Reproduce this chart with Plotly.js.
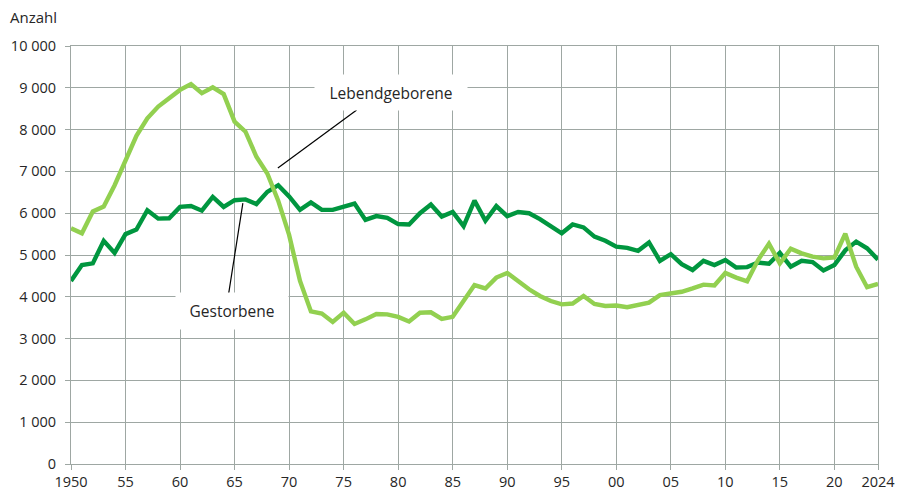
<!DOCTYPE html>
<html>
<head>
<meta charset="utf-8">
<script src="https://cdn.plot.ly/plotly-3.0.1.min.js"></script>
<style>html,body{margin:0;padding:0;background:#fff;}#chart{width:904px;height:496px;}</style>
</head>
<body>
<div id="chart"></div>
<script>
const years = [];
for (let y = 1950; y <= 2024; y++) years.push(y);

const lebendgeborene = [
  5640, 5520, 6040, 6160, 6670, 7230, 7850, 8270, 8550, 8750,
  8950, 9090, 8870, 9010, 8850, 8190, 7950, 7350, 6950, 6300,
  5480, 4380, 3650, 3600, 3400, 3620, 3350, 3460, 3590, 3580,
  3520, 3410, 3620, 3630, 3470, 3520, 3880, 4280, 4200, 4460,
  4570, 4360, 4180, 4020, 3900, 3820, 3840, 4020, 3830, 3780,
  3790, 3750, 3800, 3860, 4040, 4090, 4120, 4200, 4290, 4270,
  4570, 4460, 4370, 4880, 5270, 4800, 5150, 5040, 4960, 4920,
  4940, 5510, 4720, 4230, 4310
];

const gestorbene = [
  4380, 4760, 4800, 5340, 5050, 5500, 5610, 6070, 5870, 5880,
  6150, 6170, 6060, 6390, 6150, 6310, 6330, 6220, 6510, 6670,
  6400, 6080, 6260, 6080, 6080, 6150, 6230, 5840, 5930, 5890,
  5740, 5730, 6000, 6210, 5920, 6030, 5690, 6300, 5820, 6170,
  5930, 6030, 6000, 5860, 5680, 5520, 5730, 5660, 5440, 5340,
  5200, 5170, 5100, 5300, 4860, 5020, 4780, 4640, 4860, 4760,
  4880, 4700, 4710, 4820, 4790, 5050, 4720, 4860, 4830, 4630,
  4760, 5110, 5320, 5160, 4890
];

const xTickVals = [1950, 1955, 1960, 1965, 1970, 1975, 1980, 1985, 1990, 1995, 2000, 2005, 2010, 2015, 2020, 2024];
const xTickText = ['1950', '55', '60', '65', '70', '75', '80', '85', '90', '95', '00', '05', '10', '15', '20', '2024'];
const yTickVals = [0, 1000, 2000, 3000, 4000, 5000, 6000, 7000, 8000, 9000, 10000];
const yTickText = ['0', '1 000', '2 000', '3 000', '4 000', '5 000', '6 000', '7 000', '8 000', '9 000', '10 000'];

const lightGreen = '#92d050';
const darkGreen = '#00963f';
const gridCol = '#9ea7a3';
const textCol = '#262626';
const fontFam = '"Open Sans", "Noto Sans", sans-serif';

const traces = [
  {x: years, y: gestorbene, type: 'scatter', mode: 'lines', name: 'Gestorbene',
   line: {color: darkGreen, width: 4.4}},
  {x: years, y: lebendgeborene, type: 'scatter', mode: 'lines', name: 'Lebendgeborene',
   line: {color: lightGreen, width: 4.4}}
];

const layout = {
  width: 904, height: 496,
  margin: {l: 71, r: 25.5, t: 46, b: 32},
  paper_bgcolor: '#ffffff', plot_bgcolor: '#ffffff',
  showlegend: false,
  font: {family: fontFam, size: 14.5, color: textCol},
  xaxis: {
    range: [1950, 2024], tickvals: xTickVals, ticktext: xTickText,
    showgrid: true, gridcolor: gridCol, gridwidth: 1,
    showline: true, linecolor: gridCol, linewidth: 1, mirror: true,
    ticks: 'outside', ticklen: 5, tickcolor: gridCol, tickwidth: 1,
    zeroline: false, fixedrange: true,
    tickfont: {family: fontFam, size: 14.5, color: textCol}
  },
  yaxis: {
    range: [0, 10000], tickvals: yTickVals, ticktext: yTickText,
    showgrid: true, gridcolor: gridCol, gridwidth: 1,
    showline: true, linecolor: gridCol, linewidth: 1, mirror: true,
    ticks: 'outside', ticklen: 5, tickcolor: gridCol, tickwidth: 1,
    ticklabelstandoff: 6,
    zeroline: false, fixedrange: true,
    tickfont: {family: fontFam, size: 14.5, color: textCol}
  },
  shapes: [
    {type: 'line', xref: 'x', yref: 'y', x0: 1968.97, y0: 7080, x1: 1976.2, y1: 8470,
     line: {color: '#000000', width: 1.2}, layer: 'above'},
    {type: 'line', xref: 'x', yref: 'y', x0: 1965.76, y0: 6240, x1: 1964.39, y1: 3970,
     line: {color: '#000000', width: 1.2}, layer: 'above'}
  ],
  annotations: [
    {text: 'Anzahl', xref: 'paper', yref: 'paper', x: -0.078, y: 1.097,
     xanchor: 'left', yanchor: 'top', showarrow: false,
     font: {family: fontFam, size: 15, color: textCol}},
    {text: 'Lebendgeborene', xref: 'x', yref: 'y', x: 1979.33, y: 8890,
     xanchor: 'center', yanchor: 'middle', showarrow: false,
     width: 152, height: 35, bgcolor: '#ffffff', borderpad: 0,
     font: {family: fontFam, size: 15.5, color: textCol}},
    {text: 'Gestorbene', xref: 'x', yref: 'y', x: 1964.75, y: 3660,
     xanchor: 'center', yanchor: 'middle', showarrow: false,
     width: 112, height: 36, bgcolor: '#ffffff', borderpad: 0,
     font: {family: fontFam, size: 15.5, color: textCol}}
  ]
};

Plotly.newPlot('chart', traces, layout, {displayModeBar: false, staticPlot: true});
</script>
</body>
</html>
